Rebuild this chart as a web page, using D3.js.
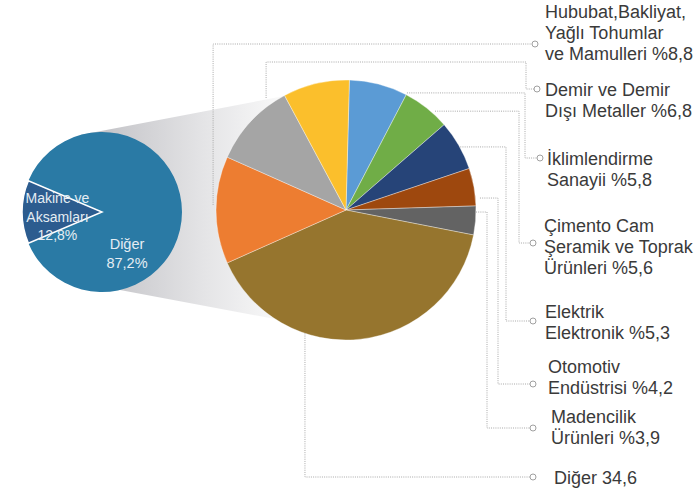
<!DOCTYPE html>
<html>
<head>
<meta charset="utf-8">
<script src="https://cdn.jsdelivr.net/npm/d3@7"></script>
<style>
  body { margin: 0; background: #fff; }
  text { font-family: "Liberation Sans", Arial, sans-serif; }
</style>
</head>
<body>
<div id="chart"></div>
<script>
// small pie (share of total)
const mainNames = ["Makine ve Aksamları", "Diğer"];
const mainShares = [12.8, 87.2];

// big pie slices, clockwise from the top (shares)
const sliceNames = ["İklimlendirme", "Çimento", "Elektrik", "Otomotiv", "Madencilik",
                    "Diğer", "Hububat", "Demir", "Diğer (etiketsiz)"];
const sliceShares = [7.25, 5.94, 6.22, 4.67, 3.58, 40.25, 13.33, 10.5, 8.25];

// callout labels
const labelLines = [
  ["Hububat,Bakliyat,", "Yağlı Tohumlar", "ve Mamulleri %"],
  ["Demir ve Demir", "Dışı Metaller %"],
  ["İklimlendirme", "Sanayii %"],
  ["Çimento Cam", "Şeramik ve Toprak", "Ürünleri %"],
  ["Elektrik", "Elektronik %"],
  ["Otomotiv", "Endüstrisi %"],
  ["Madencilik", "Ürünleri %"],
  ["Diğer "]
];
const labelValues = [8.8, 6.8, 5.8, 5.6, 5.3, 4.2, 3.9, 34.6];

// styling / layout
const sliceColors = ["#5b9bd5", "#70ad47", "#264478", "#9e480e", "#636363",
                     "#96752e", "#ed7d31", "#a5a5a5", "#fbbf2c"];
const mainColors = ["#2c5c8f", "#2a7aa5"];

const width = 694, height = 489;
const small = { x: 102, y: 212, r: 80 };
const big = { x: 346, y: 210, r: 130 };

// leader layout: anchor angle (deg, clockwise from 12) & radius offset, optional rise/elbow, circle pos, text pos
const leaders = [
  { ang: 272.2, dr: 3,   cx: 535, cy: 44,  tx: 545, ty: 18 },
  { ang: 324.5, dr: 7.6, rise: 62, elbow: 526, cx: 537, cy: 89, tx: 545, ty: 96 },
  { ang: 27.5,  dr: 2,   elbow: 525, cx: 540, cy: 158, tx: 547, ty: 165 },
  { ang: 42,    dr: 3,   elbow: 519, cx: 533, cy: 243, tx: 544, ty: 232 },
  { ang: 61.1,  dr: 0.5, elbow: 506, cx: 533, cy: 321, tx: 545, ty: 318 },
  { ang: 84.9,  dr: 4.5, elbow: 498, cx: 533, cy: 384, tx: 548, ty: 373 },
  { ang: 90.9,  dr: 0,   elbow: 487, cx: 533, cy: 428, tx: 551, ty: 423 },
  { ang: 198.4, dr: 0,   cx: 533, cy: 477, tx: 554, ty: 484 }
];
const lineHeight = 21;

const rad = deg => deg * Math.PI / 180;
function pt(c, r, deg) {
  return [c.x + r * Math.sin(rad(deg)), c.y - r * Math.cos(rad(deg))];
}

const svg = d3.select("#chart").append("svg")
  .attr("width", width)
  .attr("height", height);

// connector band between the pies
const defs = svg.append("defs");
const grad = defs.append("linearGradient")
  .attr("id", "band")
  .attr("gradientUnits", "userSpaceOnUse")
  .attr("x1", small.x).attr("y1", 0)
  .attr("x2", big.x - big.r + 70).attr("y2", 0);
grad.append("stop").attr("offset", "0%").attr("stop-color", "#c4c4c8");
grad.append("stop").attr("offset", "55%").attr("stop-color", "#e4e4e6");
grad.append("stop").attr("offset", "100%").attr("stop-color", "#fafafa");

const bandPts = [pt(small, small.r, 345), pt(big, big.r, 331), pt(big, big.r, 213),
                 pt(small, small.r, 167), [small.x, small.y]];
svg.append("path")
  .attr("d", d3.line()(bandPts) + "Z")
  .attr("fill", "url(#band)");

// big pie
const bigStart = rad(1.5);
const bigPie = d3.pie().sort(null).value(d => d)
  .startAngle(bigStart).endAngle(bigStart + 2 * Math.PI);
const bigArc = d3.arc().innerRadius(0).outerRadius(big.r);

svg.append("g")
  .attr("transform", `translate(${big.x},${big.y})`)
  .selectAll("path")
  .data(bigPie(sliceShares))
  .join("path")
  .attr("d", bigArc)
  .attr("fill", (d, i) => sliceColors[i])
  .attr("stroke", "#ffffff")
  .attr("stroke-opacity", 0.6)
  .attr("stroke-width", 0.6);

// small pie, Makine wedge centred on 9 o'clock
const smallStart = -Math.PI / 2 - Math.PI * mainShares[0] / 100;
const smallPie = d3.pie().sort(null).value(d => d)
  .startAngle(smallStart).endAngle(smallStart + 2 * Math.PI);
const smallArc = d3.arc().innerRadius(0).outerRadius(small.r);
const smallData = smallPie(mainShares);

const gSmall = svg.append("g").attr("transform", `translate(${small.x},${small.y})`);
gSmall.append("path").attr("d", smallArc(smallData[1])).attr("fill", mainColors[1]);
gSmall.append("path").attr("d", smallArc(smallData[0]))
  .attr("fill", mainColors[0])
  .attr("stroke", "#ffffff")
  .attr("stroke-width", 1.5)
  .attr("stroke-linejoin", "miter");

const fmt = v => String(v).replace(".", ",");
const smallLabels = [
  { lines: ["Makine ve", "Aksamları", fmt(mainShares[0]) + "%"], ang: 262, r: 45, lh: 18.5, size: 14 },
  { lines: [mainNames[1], fmt(mainShares[1]) + "%"], ang: 150, r: 50, lh: 19, size: 14.5 }
];
smallLabels.forEach(l => {
  const p = pt(small, l.r, l.ang);
  const n = l.lines.length;
  svg.append("text")
    .attr("text-anchor", "middle")
    .attr("fill", "#e4edf3")
    .style("font-size", l.size + "px")
    .selectAll("tspan")
    .data(l.lines)
    .join("tspan")
    .attr("x", p[0])
    .attr("y", (d, i) => p[1] + (i - (n - 1) / 2) * l.lh + 3.5)
    .text(d => d);
});

// leader lines
const gLead = svg.append("g");
leaders.forEach((L, i) => {
  const a = pt(big, big.r + L.dr, L.ang);
  let d = `M${a[0]},${a[1]}`;
  if (L.rise !== undefined) d += `V${L.rise}`;
  if (L.elbow !== undefined) d += `H${L.elbow}`;
  d += `V${L.cy}H${L.cx - 3}`;
  gLead.append("path")
    .attr("d", d)
    .attr("fill", "none")
    .attr("stroke", "#a8a8a8")
    .attr("stroke-width", 1)
    .attr("stroke-dasharray", "1,1.2");
  gLead.append("circle")
    .attr("cx", L.cx).attr("cy", L.cy).attr("r", 3)
    .attr("fill", "#fff")
    .attr("stroke", "#a0a0a0")
    .attr("stroke-width", 1);

  const lines = labelLines[i].slice();
  lines[lines.length - 1] += fmt(labelValues[i]);
  svg.append("text")
    .attr("fill", "#3a3a3a")
    .style("font-size", "18px")
    .selectAll("tspan")
    .data(lines)
    .join("tspan")
    .attr("x", L.tx)
    .attr("y", (d, j) => L.ty + j * lineHeight)
    .text(d => d);
});
</script>
</body>
</html>
